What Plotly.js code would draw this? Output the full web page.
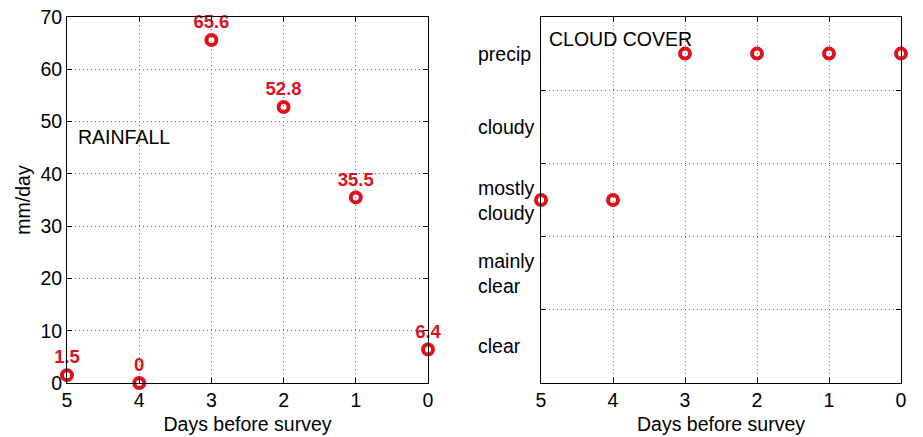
<!DOCTYPE html>
<html><head><meta charset="utf-8">
<script src="https://cdn.plot.ly/plotly-3.0.1.min.js"></script>
<style>html,body{margin:0;padding:0;background:#fff}#c{width:923px;height:437px}</style>
</head><body><div id="c"></div>
<script>
const days = [5, 4, 3, 2, 1, 0];
const rainfall = [1.5, 0, 65.6, 52.8, 35.5, 6.4];
const rainLabels = ['1.5', '0', '65.6', '52.8', '35.5', '6.4'];
const cloudLevels = ['clear', 'mainly<br>clear', 'mostly<br>cloudy', 'cloudy', 'precip'];
const cloudCover = [2.5, 2.5, 4.5, 4.5, 4.5, 4.5];
const cloudPos = [0.5, 1.5, 2.5, 3.5, 4.5];
const xTicks = [5, 4, 3, 2, 1, 0];

const RED = '#e0101c';
const FONT = 'Liberation Sans, Arial, sans-serif';
const marker = {symbol: 'circle-open', size: 10, color: RED, line: {width: 4, color: RED}};

const traces = [
  {x: days, y: rainfall, type: 'scatter', mode: 'markers+text', text: rainLabels,
   textposition: 'top center', textfont: {family: FONT, size: 18.5, color: RED, weight: 'bold'},
   marker: marker, cliponaxis: false, xaxis: 'x', yaxis: 'y', hoverinfo: 'none'},
  {x: days, y: cloudCover, type: 'scatter', mode: 'markers', marker: marker,
   cliponaxis: false, xaxis: 'x2', yaxis: 'y2', hoverinfo: 'none'}
];

const axBase = {
  showline: true, linecolor: '#000', linewidth: 1, mirror: 'ticks',
  ticks: 'inside', ticklen: 5, tickcolor: '#000',
  showgrid: true, gridcolor: '#666', griddash: '1px,3px', gridwidth: 1,
  zeroline: false, tickfont: {family: FONT, size: 19.5, color: '#000'}
};

const yDom = [1 - 383/437, 1 - 17/437];
const titleFont = {family: FONT, size: 19.5, color: '#000'};
const layout = {
  width: 923, height: 437, showlegend: false,
  margin: {l: 0, r: 0, t: 0, b: 0},
  paper_bgcolor: '#fff', plot_bgcolor: '#fff',
  font: {family: FONT, color: '#000'},
  xaxis: Object.assign({}, axBase, {domain: [67/923, 428/923], range: [5, 0],
    tickvals: xTicks, anchor: 'y',
    title: {text: 'Days before survey', font: titleFont, standoff: 6}}),
  yaxis: Object.assign({}, axBase, {domain: yDom, range: [0, 70], dtick: 10, anchor: 'x',
    title: {text: 'mm/day', font: titleFont, standoff: 4}}),
  xaxis2: Object.assign({}, axBase, {domain: [541/923, 901/923], range: [5, 0],
    tickvals: xTicks, anchor: 'y2',
    title: {text: 'Days before survey', font: titleFont, standoff: 6}}),
  yaxis2: Object.assign({}, axBase, {domain: yDom, range: [0, 5], tickvals: [1, 2, 3, 4],
    showticklabels: false, anchor: 'x2'}),
  annotations: [
    {xref: 'paper', yref: 'paper', x: 76/923, y: 1 - 137/437, xanchor: 'left', yanchor: 'middle',
     text: 'RAINFALL', showarrow: false, font: {family: FONT, size: 19.5, color: '#000'}},
    {xref: 'paper', yref: 'paper', x: 547/923, y: 1 - 39/437, xanchor: 'left', yanchor: 'middle',
     text: 'CLOUD COVER', showarrow: false, font: {family: FONT, size: 19.5, color: '#000'}}
  ].concat(cloudLevels.map((t, i) => ({
     xref: 'paper', yref: 'y2', x: 476/923, y: cloudPos[i], xanchor: 'left', yanchor: 'middle',
     align: 'left', text: t, showarrow: false, font: {family: FONT, size: 19.5, color: '#000'}
  })))
};

Plotly.newPlot('c', traces, layout, {staticPlot: true, displayModeBar: false});
</script></body></html>
